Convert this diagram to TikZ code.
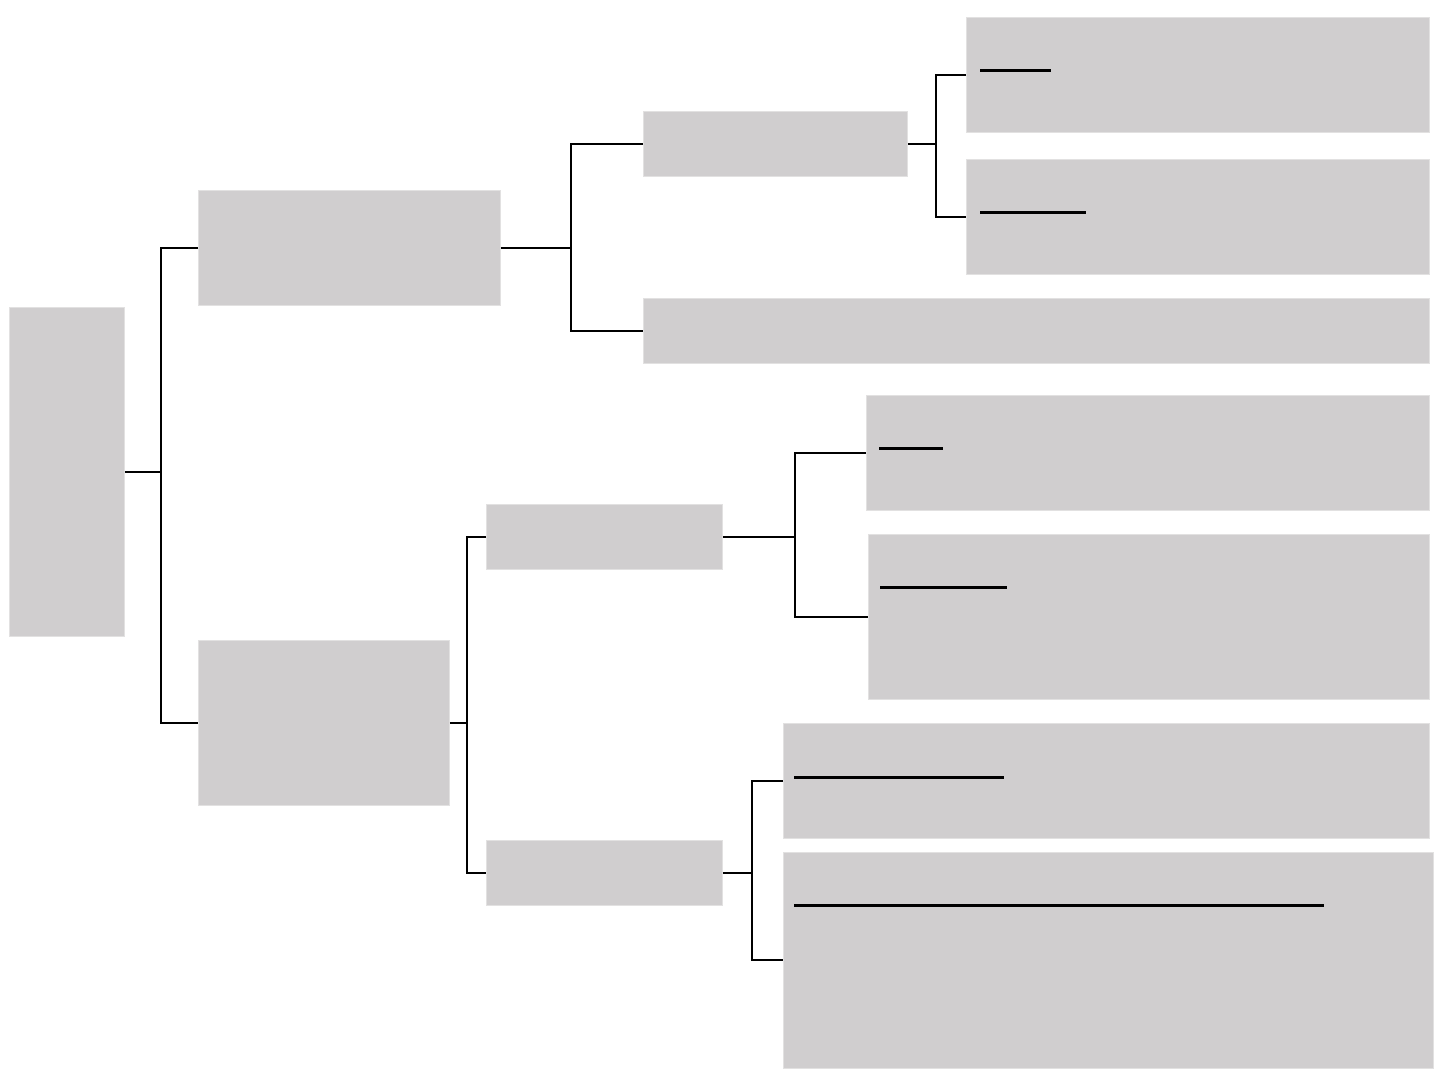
\documentclass[tikz,border=0pt]{standalone}
\begin{document}
\begin{tikzpicture}[x=1pt,y=-1pt,
  box/.style={fill=boxgray,draw=boxedge,line width=0.8pt,inner sep=0pt,anchor=north west},
  conn/.style={line width=1.4pt,black},
  uline/.style={line width=3pt,black}]
\definecolor{boxgray}{HTML}{D0CECF}
\definecolor{boxedge}{HTML}{E2E1E1}
\useasboundingbox[fill=white] (0,0) rectangle (1440,1080);
% boxes
\node[box,minimum width=115pt,minimum height=329pt] (root) at (9,307) {};
\node[box,minimum width=302pt,minimum height=115pt] (A) at (198,190) {};
\node[box,minimum width=264pt,minimum height=65pt] (A1) at (643,111) {};
\node[box,minimum width=463pt,minimum height=115pt] (A1a) at (966,17) {};
\node[box,minimum width=463pt,minimum height=115pt] (A1b) at (966,159) {};
\node[box,minimum width=786pt,minimum height=65pt] (A2) at (643,298) {};
\node[box,minimum width=251pt,minimum height=165pt] (B) at (198,640) {};
\node[box,minimum width=236pt,minimum height=65pt] (B1) at (486,504) {};
\node[box,minimum width=563pt,minimum height=115pt] (B1a) at (866,395) {};
\node[box,minimum width=561pt,minimum height=165pt] (B1b) at (868,534) {};
\node[box,minimum width=236pt,minimum height=65pt] (B2) at (486,840) {};
\node[box,minimum width=646pt,minimum height=115pt] (B2a) at (783,723) {};
\node[box,minimum width=650pt,minimum height=216pt] (B2b) at (783,852) {};
% junctions (at the parent's mid height)
\coordinate (j0) at (root.east -| 161,0);
\coordinate (jA) at (A.east -| 571,0);
\coordinate (jA1) at (A1.east -| 936,0);
\coordinate (jB) at (B.east -| 467,0);
\coordinate (jB1) at (B1.east -| 795,0);
\coordinate (jB2) at (B2.east -| 752,0);
% connectors
\draw[conn] (root.east) -- (j0);
\draw[conn] (A.west) -| (j0) |- (B.west);
\draw[conn] (A.east) -- (jA);
\draw[conn] (A1.west) -| (jA) |- (A2.west);
\draw[conn] (A1.east) -- (jA1);
\draw[conn] (A1a.west) -| (jA1) |- (A1b.west);
\draw[conn] (B.east) -- (jB);
\draw[conn] (B1.west) -| (jB) |- (B2.west);
\draw[conn] (B1.east) -- (jB1);
\draw[conn] (B1a.west) -| (jB1) |- (B1b.west);
\draw[conn] (B2.east) -- (jB2);
\draw[conn,line width=1.9pt] (B2a.west) -| (jB2) |- (B2b.west);
% underlines
\draw[uline] ([shift={(14,53)}]A1a.north west) -- ++(71,0);
\draw[uline] ([shift={(14,53)}]A1b.north west) -- ++(106,0);
\draw[uline] ([shift={(13,53)}]B1a.north west) -- ++(64,0);
\draw[uline] ([shift={(12,53)}]B1b.north west) -- ++(127,0);
\draw[uline] ([shift={(11,54)}]B2a.north west) -- ++(210,0);
\draw[uline] ([shift={(11,53)}]B2b.north west) -- ++(530,0);
\end{tikzpicture}
\end{document}
